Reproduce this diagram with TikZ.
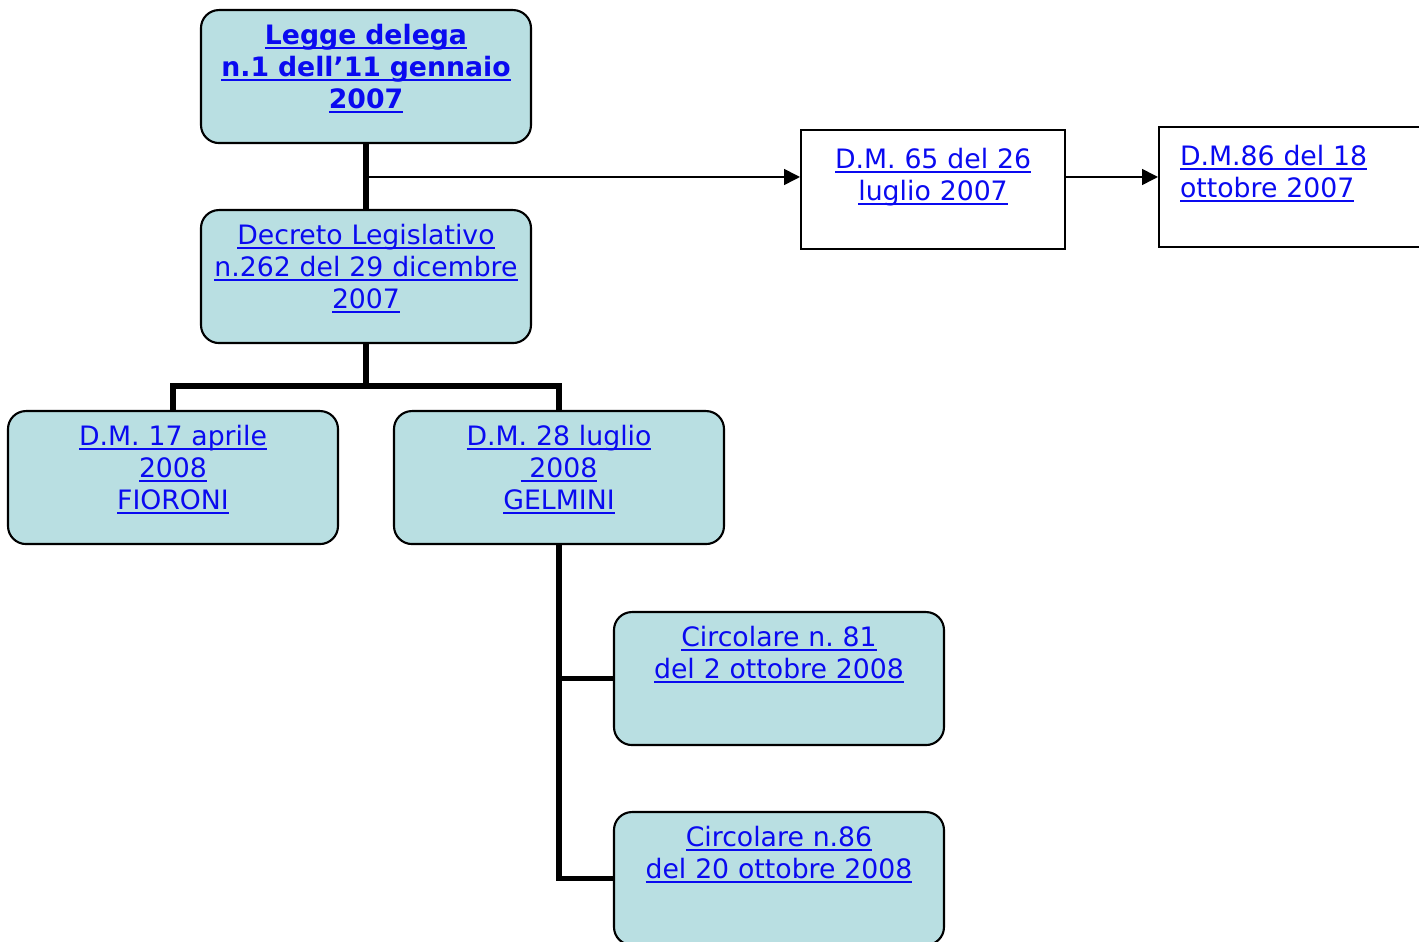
\documentclass[tikz,border=0pt]{standalone}
\usepackage{fontspec}
\setmainfont{DejaVu Sans}
\usetikzlibrary{arrows.meta}
\frenchspacing
\definecolor{boxfill}{RGB}{185,223,226}
\definecolor{linkblue}{RGB}{10,10,240}
\newcommand{\ulink}[1]{\textcolor{linkblue}{\setbox0\hbox{#1}\rlap{\rule[-1.3pt]{\wd0}{0.55pt}}\box0}}
\tikzset{
	rbox/.style={draw,line width=0.6pt,rounded corners=0.18cm,fill=boxfill,text width=3.3cm,align=center,inner sep=0pt,text height=0.34cm,text depth=0.99cm,anchor=north,font=\fontsize{7.6}{9.2}\selectfont},
	sbox/.style={draw,line width=0.6pt,fill=white,inner sep=0pt,text height=0.38cm,anchor=north west,font=\fontsize{7.6}{9.2}\selectfont},
	tree/.style={line width=1.5pt},
	link/.style={line width=0.45pt,-{Triangle[length=4.5pt,width=4.5pt]}}
}
\begin{document}
\begin{tikzpicture}
	\useasboundingbox (0,0) rectangle (14.19,-9.42);
	% boxes
	\node[rbox] (legge) at (3.66,-0.09) {\ulink{\textbf{Legge delega}}\\\ulink{\textbf{n.1 dell’11 gennaio}}\\\ulink{\textbf{2007}}};
	\node[rbox] (decreto) at (3.66,-2.09) {\ulink{Decreto Legislativo}\\\ulink{n.262 del 29 dicembre}\\\ulink{2007}};
	\node[rbox] (dm17) at (1.73,-4.10) {\ulink{D.M. 17 aprile}\\\ulink{2008}\\\ulink{FIORONI}};
	\node[rbox] (dm28) at (5.59,-4.10) {\ulink{D.M. 28 luglio}\\\ulink{\ 2008}\\\ulink{GELMINI}};
	\node[rbox] (circ81) at (7.79,-6.11) {\ulink{Circolare n. 81}\\\ulink{del 2 ottobre 2008}};
	\node[rbox] (circ86) at (7.79,-8.11) {\ulink{Circolare n.86}\\\ulink{del 20 ottobre 2008}};
	\node[sbox,text width=2.64cm,align=center,text depth=0.81cm] (dm65) at (8.00,-1.29) {\ulink{D.M. 65 del 26}\\\ulink{luglio 2007}};
	\node[sbox,text width=2.7cm,inner xsep=0.21cm,align=left,text depth=0.82cm] (dm86) at (11.58,-1.26) {\ulink{D.M.86 del 18}\\\ulink{ottobre 2007}};
	% connectors
	\coordinate (br) at (3.66,-1.77);
	\draw[tree] (legge) -- (decreto);
	\draw[link] (br) -- (br -| dm65.west);
	\draw[link] (br -| dm65.east) -- (br -| dm86.west);
	\draw[tree] (decreto.south) -- ++(0,-0.42) -| (dm17.north);
	\draw[tree] (decreto.south) -- ++(0,-0.42) -| (dm28.north);
	\draw[tree] (dm28.south) |- (circ81.west);
	\draw[tree] (dm28.south) |- (circ86.west);
\end{tikzpicture}
\end{document}
